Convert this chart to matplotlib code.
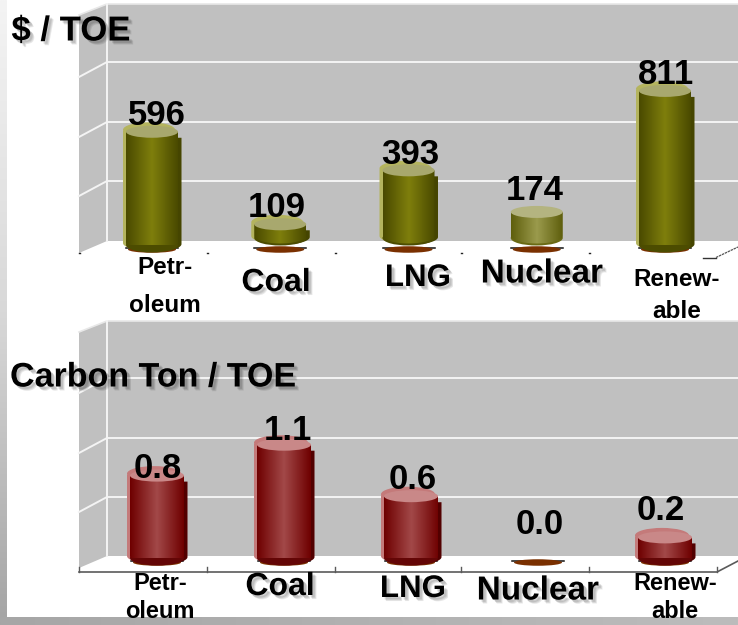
import numpy as np
import matplotlib
matplotlib.use("Agg")
import matplotlib.pyplot as plt
import matplotlib.patheffects as pe
from matplotlib.colors import LinearSegmentedColormap
from matplotlib.patches import Ellipse, Polygon

category_lines = [["Petr-", "oleum"], ["Coal"], ["LNG"], ["Nuclear"], ["Renew-", "able"]]
cost_per_toe = [596, 109, 393, 174, 811]
carbon_per_toe = [0.8, 1.1, 0.6, 0.0, 0.2]
cost_labels = ["596", "109", "393", "174", "811"]
carbon_labels = ["0.8", "1.1", "0.6", "0.0", "0.2"]

W, H = 738, 625
FONT = "Liberation Sans"

fig = plt.figure(figsize=(W / 100, H / 100), dpi=100, facecolor="white")

# Full-figure layer in pixel units for the frame and the chart walls
bg = fig.add_axes([0, 0, 1, 1], zorder=1)
bg.axis("off")

edge_cmap = LinearSegmentedColormap.from_list("edge", ["#f4f4f4", "#d8d8d8", "#a4a4a4"])
bg.imshow(np.linspace(0, 1, 256)[:, None], extent=(0, 7, H, 0), cmap=edge_cmap, aspect="auto", zorder=1)
bg.imshow(np.linspace(0, 1, 256)[None, :], extent=(0, W, H, 617),
          cmap=LinearSegmentedColormap.from_list("foot", ["#a6a6a6", "#bcbcbc"]), aspect="auto", zorder=1)
bg.set_xlim(0, W)
bg.set_ylim(H, 0)


def draw_walls(top, floor, grid, left_drop):
    """Back and side walls of the pseudo-3D plot box."""
    bg.add_patch(Polygon([(107, top), (W, top), (W, floor), (107, floor)], fc="#c0c0c0", ec="none", zorder=2))
    bg.add_patch(Polygon([(79, top + left_drop - 1), (107, top), (107, floor), (79, floor + left_drop)],
                         fc="#c0c0c0", ec="none", zorder=2))
    bg.plot([79, 107, W], [top + left_drop - 1, top, top], color="#e8e8e8", lw=1.2, zorder=3)
    bg.plot([107, 107], [top, floor], color="#f4f4f4", lw=1.4, zorder=3)
    for y in grid:
        bg.plot([79, 107, W], [y + left_drop + 3, y, y], color="#f4f4f4", lw=1.4, zorder=3)


draw_walls(4, 241, [62, 122, 181], 12)
draw_walls(321, 556, [378, 438, 497], 12)

# Floor edges of the two charts
tick_x = [79, 207, 335, 461, 589, 717]
for x in tick_x[:-1]:
    bg.plot([x, x + 0.8], [253, 253], color="#222222", lw=1, zorder=3)
bg.plot([703, 716], [257.5, 257.5], color="#333333", lw=1, zorder=3)
bg.plot([716, W], [257.5, 247], color="#555555", lw=0.9, ls=(0, (2, 0.6)), zorder=3)
bg.plot([79, 717, W], [572, 572, 561], color="#5a5a5a", lw=1.2, zorder=3)
for x in tick_x:
    bg.plot([x, x], [572, 567], color="#5a5a5a", lw=1, zorder=3)


def make_axes(x_first, x_last, base_px, top_px, px_per_unit):
    """Value axes placed so category 0/4 and value 0 land on the plot box."""
    ax = fig.add_axes([78 / W, 1 - base_px / H, (W - 78) / W, (base_px - top_px) / H], zorder=2)
    ax.patch.set_alpha(0)
    ax.axis("off")
    sx = (x_last - x_first) / 4
    return ax, sx, ((78 - x_first) / sx, (W - x_first) / sx), (0, (base_px - top_px) / px_per_unit)


def cylinder_outline(xc, y0, y1, half_w, ry):
    """Body outline: flat-topped sides with an elliptical lower rim (data units)."""
    t = np.linspace(np.pi, 2 * np.pi, 60)
    xs = xc + half_w * np.cos(t)
    ys = y0 + ry * np.sin(t)
    return np.vstack([np.column_stack([xs, ys]), [xc + half_w, y1], [xc - half_w, y1]])


def draw_cylinder(ax, i, value, sx, sy, lift, pal, half_px=26, layered=True):
    xc = i
    hw = half_px / sx
    ry = 7.5 / sy
    y1 = value
    y0 = lift / sy

    # Scorched disc sits beneath every column
    disc_y = -4.5 / sy
    ax.add_patch(Ellipse((xc, disc_y), 48 / sx, 6.5 / sy, fc="#7a3000", ec="none", zorder=2, clip_on=False))
    ax.plot([xc - 26 / sx, xc + 26 / sx], [disc_y + 1.5 / sy] * 2, color="#111111", lw=1.1,
            zorder=1.9, clip_on=False)

    if value <= 0:
        return

    if layered:
        # Pale offset behind the left side and a dark strip down the right side
        back = cylinder_outline(xc - 3 / sx, y0 + 2 / sy, y1 + 1 / sy, hw, ry)
        ax.add_patch(Polygon(back, fc=pal["pale"], ec="none", zorder=3, clip_on=False))
        ax.add_patch(Ellipse((xc - 3 / sx, y1 + 2 / sy), 2 * hw, 2 * ry, fc=pal["pale"], ec="none",
                             zorder=3, clip_on=False))
        strip = cylinder_outline(xc + 3.5 / sx, y0 + 1 / sy, y1 - 6 / sy, hw, ry)
        ax.add_patch(Polygon(strip, fc=pal["strip"], ec="none", zorder=3, clip_on=False))

    ax.add_patch(Ellipse((xc, y0), 2 * hw, 2 * ry, fc=pal["rim"], ec="none", zorder=3.5, clip_on=False))

    outline = Polygon(cylinder_outline(xc, y0 + 2 / sy, y1, hw, ry), transform=ax.transData, fc="none", ec="none")
    ax.add_patch(outline)
    grad = np.abs(np.linspace(-1, 1, 128))[None, :]
    cmap = LinearSegmentedColormap.from_list("body", [pal["mid"], pal["edge"]])
    im = ax.imshow(grad, extent=(xc - hw, xc + hw, y0 - ry, y1), cmap=cmap, aspect="auto", zorder=4)
    im.set_clip_path(outline)

    ax.add_patch(Ellipse((xc, y1), 2 * hw, 2 * ry * 0.8, fc=pal["cap"], ec="none", zorder=5, clip_on=False))


def value_labels(ax, values, labels, dx, dy):
    for i, (v, s) in enumerate(zip(values, labels)):
        ax.annotate(s, (i, v), xytext=(dx[i] * 0.72, dy[i] * 0.72), textcoords="offset points",
                    ha="center", va="center", fontsize=25, fontweight="bold", family=FONT, color="black",
                    zorder=9, annotation_clip=False)


olive = dict(pale="#b4b45e", strip="#454500", rim="#4c4c00", mid="#7e7e0c", edge="#4a4a00", cap="#a8a86e")
olive_soft = dict(pale="#b4b45e", strip="#5a5a10", rim="#6a6a14", mid="#9a9a4c", edge="#5e5e0c", cap="#b4b480")
crimson = dict(pale="#c47a7a", strip="#520000", rim="#640606", mid="#a24848", edge="#6e0000", cap="#c98888")

# Upper chart: cost per tonne of oil equivalent
ax1, sx1, xlim1, ylim1 = make_axes(152, 665, 245, 4, 0.19)
for i, v in enumerate(cost_per_toe):
    lift = 7 if i in (1, 2, 3) else 0
    muted = i == 3
    draw_cylinder(ax1, i, v, sx1, 0.19, lift, olive_soft if muted else olive, layered=not muted)
ax1.set_xlim(xlim1)
ax1.set_ylim(ylim1)
value_labels(ax1, cost_per_toe, cost_labels, [5, -3, 2, -2, 1], [16, 17, 16, 21, 16])

# Lower chart: carbon emitted per tonne of oil equivalent
ax2, sx2, xlim2, ylim2 = make_axes(157, 665, 558, 321, 103)
for i, v in enumerate(carbon_per_toe):
    draw_cylinder(ax2, i, v, sx2, 103, 0, crimson, half_px=27)
ax2.set_xlim(xlim2)
ax2.set_ylim(ylim2)
value_labels(ax2, carbon_per_toe, carbon_labels, [1, 4, 2, 2, -4], [7, 14, 17, 33, 27])

# Titles and category names sit above everything on their own layer
overlay = fig.add_axes([0, 0, 1, 1], zorder=5)
overlay.set_xlim(0, W)
overlay.set_ylim(H, 0)
overlay.axis("off")


def soft_shadow(offset=2.0):
    layers = [pe.SimplePatchShadow(offset=(offset + d, -offset - d), shadow_rgbFace="k", alpha=0.09)
              for d in (0.9, 0.3, -0.3)]
    return layers + [pe.Normal()]


def put_text(x, y, s, size, shaded=True):
    t = overlay.text(x, y, s, fontsize=size, fontweight="bold", family=FONT, color="black",
                     ha="center", va="center", zorder=8)
    if shaded:
        t.set_path_effects(soft_shadow())


put_text(71, 31, "$ / TOE", 25)
put_text(153, 378, "Carbon Ton / TOE", 24.5)

label_pos_top = [(165, (268, 306), 17.5), (276, (283,), 23), (418, (278,), 22.5), (542, (274,), 24), (677, (279, 312), 17.5)]
label_pos_low = [(160, (583, 612), 17), (280, (587,), 23), (413, (589,), 22.5), (538, (591,), 24), (675, (584, 612), 17)]
for positions in (label_pos_top, label_pos_low):
    for lines, (x, ys, size) in zip(category_lines, positions):
        for line, y in zip(lines, ys):
            put_text(x, y, line, size, shaded=len(lines) == 1)

fig.savefig("out.png", dpi=100, facecolor="white")
